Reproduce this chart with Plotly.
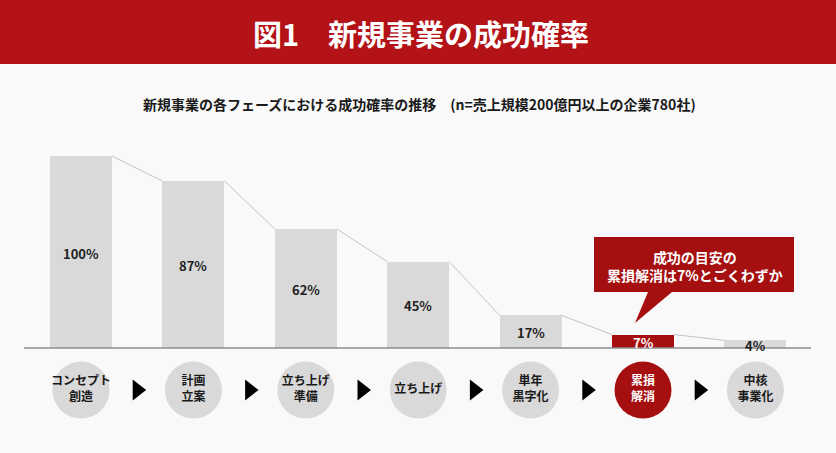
import plotly.graph_objects as go

# ---- data ----
stages = ["コンセプト<br>創造", "計画<br>立案", "立ち上げ<br>準備", "立ち上げ",
          "単年<br>黒字化", "累損<br>解消", "中核<br>事業化"]
rates = [100, 87, 62, 45, 17, 7, 4]
labels = ["100%", "87%", "62%", "45%", "17%", "7%", "4%"]
highlight = 5
title_text = "図1　新規事業の成功確率"
subtitle_text = "新規事業の各フェーズにおける成功確率の推移　(n=売上規模200億円以上の企業780社)"
callout_text = "成功の目安の<br>累損解消は7%とごくわずか"

# ---- style ----
W, H = 836, 453
FONT = "Noto Sans CJK JP"
RED = "#A60F10"
HEAD_RED = "#B31217"
GREY = "#D9D9D9"
BG = "#F9F9F9"

PITCH = 112.4          # px per category
X0 = 81                # px center of first bar
BASE = 348             # px of baseline
PXV = 1.92             # px per percent
BARW = 62 / PITCH

def px(x):
    return x / W

def py(y):
    return 1 - y / H

xr = [-X0 / PITCH, (W - X0) / PITCH]
yr = [-(H - BASE) / PXV, BASE / PXV]
circle_y = -(390 - BASE) / PXV

n = len(rates)
idx = list(range(n))
bar_colors = [RED if i == highlight else GREY for i in idx]

fig = go.Figure()

# connecting lines between bar tops
lx, ly = [], []
for i in range(n - 1):
    lx += [i + BARW / 2, i + 1 - BARW / 2, None]
    ly += [rates[i], rates[i + 1], None]
fig.add_trace(go.Scatter(x=lx, y=ly, mode="lines",
                         line=dict(color="#C4C4C4", width=1),
                         hoverinfo="skip", showlegend=False))

fig.add_trace(go.Bar(x=idx, y=rates, width=BARW, marker=dict(color=bar_colors, line=dict(width=0)),
                     showlegend=False, hoverinfo="skip"))

# stage circles
fig.add_trace(go.Scatter(
    x=idx, y=[circle_y] * n, mode="markers+text",
    marker=dict(size=57, color=bar_colors, line=dict(width=0)),
    text=["<b>%s</b>" % s for s in stages], textposition="middle center",
    textfont=dict(family=FONT, size=12,
                  color=["#FFFFFF" if i == highlight else "#1A1A1A" for i in idx]),
    hoverinfo="skip", showlegend=False))

# arrows
fig.add_trace(go.Scatter(
    x=[i + 0.5 for i in range(n - 1)], y=[circle_y] * (n - 1), mode="markers",
    marker=dict(symbol="triangle-right", size=18, color="#000000"),
    hoverinfo="skip", showlegend=False))

annotations = []
for i, (v, lab) in enumerate(zip(rates, labels)):
    annotations.append(dict(
        x=i, y=v / 2, xref="x", yref="y", text="<b>%s</b>" % lab, showarrow=False,
        xanchor="center", yanchor="middle",
        font=dict(family=FONT, size=13, color="#FFFFFF" if i == highlight else "#222222"),
        yshift=-1))

annotations.append(dict(x=px(421), y=py(33), xref="paper", yref="paper", text="<b>%s</b>" % title_text,
                        xanchor="center", yanchor="middle",
                        showarrow=False, font=dict(family=FONT, size=29, color="#FFFFFF")))
annotations.append(dict(x=px(420), y=py(104), xref="paper", yref="paper", text="<b>%s</b>" % subtitle_text,
                        xanchor="center", yanchor="middle",
                        showarrow=False, font=dict(family=FONT, size=14, color="#1A1A1A")))
annotations.append(dict(x=px(695), y=py(266), xref="paper", yref="paper", text="<b>%s</b>" % callout_text,
                        xanchor="center", yanchor="middle",
                        showarrow=False, font=dict(family=FONT, size=14, color="#FFFFFF")))

shapes = [
    dict(type="rect", xref="paper", yref="paper", x0=0, x1=1, y0=py(64), y1=1,
         fillcolor=HEAD_RED, line=dict(width=0), layer="below"),
    dict(type="line", xref="paper", yref="y", x0=px(24), x1=px(811), y0=0, y1=0,
         line=dict(color="#8C8C8C", width=1.5), layer="above"),
    dict(type="path", xref="paper", yref="paper",
         path="M %f %f L %f %f L %f %f L %f %f L %f %f L %f %f L %f %f Z" % (
             px(594), py(237), px(794), py(237), px(794), py(292), px(672), py(292),
             px(635), py(323), px(648), py(292), px(594), py(292)),
         fillcolor=RED, line=dict(width=0), layer="below"),
]

fig.update_layout(
    width=W, height=H, margin=dict(l=0, r=0, t=0, b=0),
    paper_bgcolor=BG, plot_bgcolor=BG,
    xaxis=dict(range=xr, visible=False, fixedrange=True),
    yaxis=dict(range=yr, visible=False, fixedrange=True),
    annotations=annotations, shapes=shapes, bargap=0,
    font=dict(family=FONT),
)

fig.write_html("out.html")
